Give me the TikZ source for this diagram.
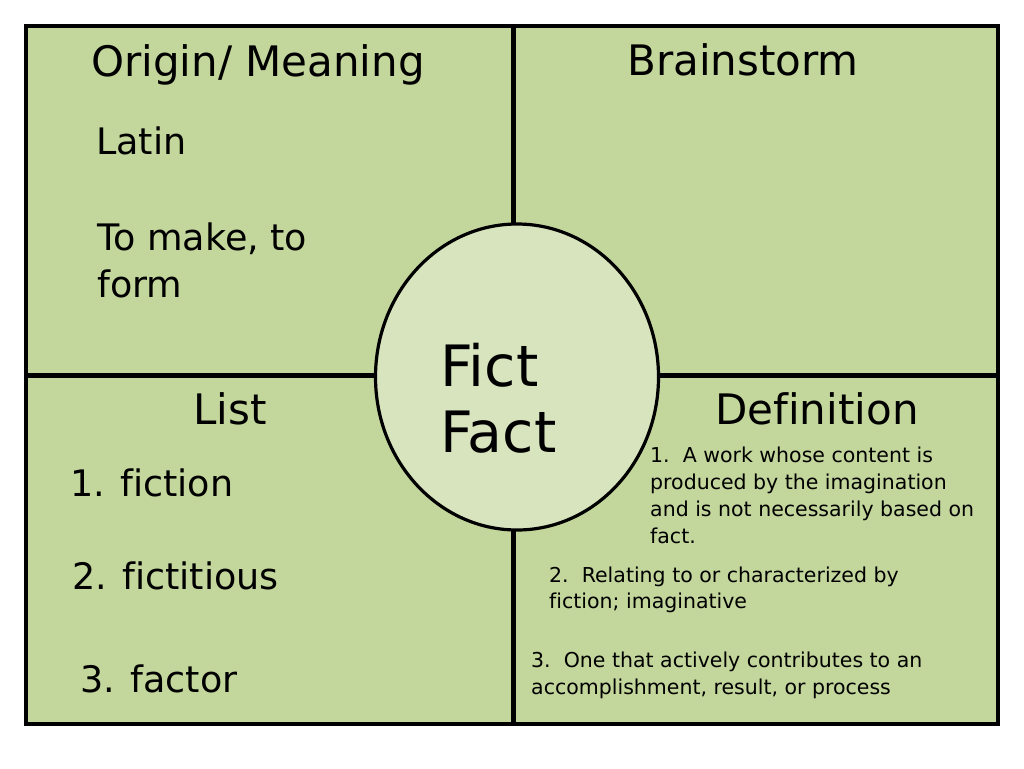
\documentclass[tikz,border=0pt]{standalone}
\usepackage{fontspec}
\usetikzlibrary{shapes.geometric}
\setmainfont[Ligatures=NoCommon]{DejaVu Sans}
\definecolor{quad}{HTML}{C3D69B}
\definecolor{oval}{HTML}{D7E4BD}
\tikzset{
  head/.style={inner sep=0pt, anchor=base, font=\fontsize{42}{50}\selectfont},
  body/.style={inner sep=0pt, anchor=base west, font=\fontsize{36.5}{44}\selectfont},
  small/.style={inner sep=0pt, anchor=base west, font=\fontsize{20.5}{27}\selectfont},
  big/.style={inner sep=0pt, anchor=base west, font=\fontsize{57}{66}\selectfont},
  divider/.style={line width=5pt},
}
\begin{document}
\begin{tikzpicture}[x=1pt,y=-1pt]
\useasboundingbox (0,0) rectangle (1024,768);
\fill[white] (0,0) rectangle (1024,768);
\draw[line width=3.5pt, fill=quad] (26,26) rectangle (998,724);
\coordinate (top) at (513,26);
\coordinate (bot) at (513,724);
\coordinate (lft) at (26,375);
\coordinate (rgt) at (998,375);
\draw[divider] (top) -- (bot);
\draw[divider] (lft) -- (rgt);
\node (circ) [ellipse, draw, line width=3.2pt, fill=oval, minimum width=283pt, minimum height=306pt, inner sep=0pt] at (517,377) {};
\node (h1) [head] at (258,77) {Origin/ Meaning};
\node (h2) [head] at (743,75) {Brainstorm};
\node (h3) [head] at (230,424) {List};
\node (h4) [head] at (817,424) {Definition};
\node (o1) [body] at (96,154) {Latin};
\node (o2) [body] at (97,250) {To make, to};
\node (o3) [body] at (97,297) {form};
\node (l1) [body] at (70,496) {1. fiction};
\node (l2) [body] at (72,589) {2. fictitious};
\node (l3) [body] at (80,692) {3. factor};
\node (f1) [big] at (440,386) {Fict};
\node (f2) [big] at (440,452) {Fact};
\node (d1a) [small] at (650,462) {1.\ \ A work whose content is};
\node (d1b) [small] at (650,489) {produced by the imagination};
\node (d1c) [small] at (650,516) {and is not necessarily based on};
\node (d1d) [small] at (650,543) {fact.};
\node (d2a) [small] at (549,582) {2.\ \ Relating to or characterized by};
\node (d2b) [small] at (549,608) {fiction; imaginative};
\node (d3a) [small] at (531,667) {3.\ \ One that actively contributes to an};
\node (d3b) [small] at (531,694) {accomplishment, result, or process};
\end{tikzpicture}
\end{document}
